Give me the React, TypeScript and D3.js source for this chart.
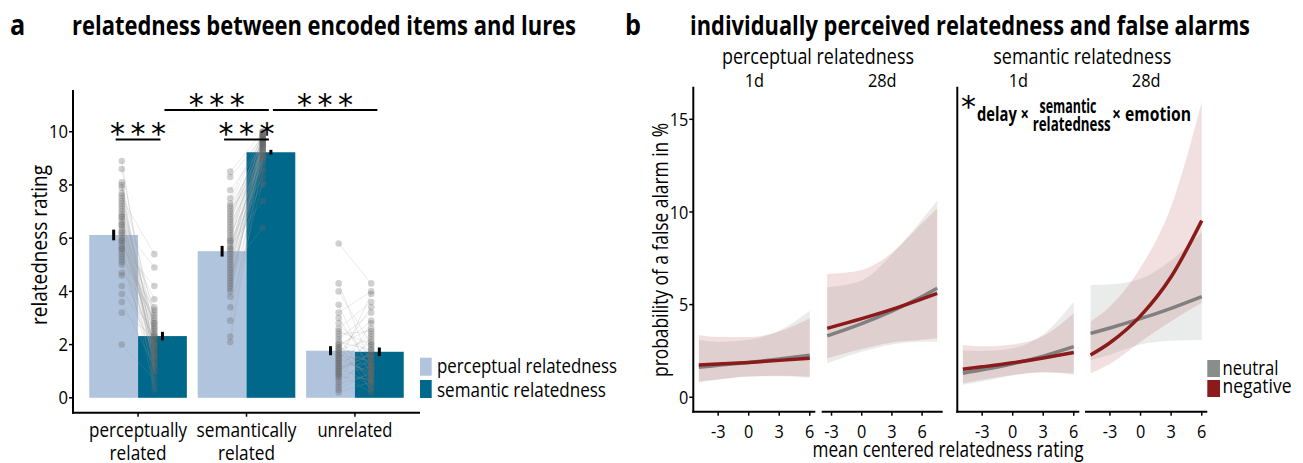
import React from 'react';
import * as d3 from 'd3';

const FONT = "'Open Sans', 'DejaVu Sans', sans-serif";

// ---------------- Panel a data ----------------
const categories = ['perceptually related', 'semantically related', 'unrelated'];
const categoryLines = [['perceptually', 'related'], ['semantically', 'related'], ['unrelated']];
const ratingTypes = ['perceptual relatedness', 'semantic relatedness'];
const meanPerceptualRating = [6.12, 5.51, 1.77];
const meanSemanticRating = [2.32, 9.23, 1.73];
const sePerceptualRating = [0.2, 0.2, 0.17];
const seSemanticRating = [0.16, 0.09, 0.16];
const yTicksA = [0, 2, 4, 6, 8, 10];

// individual participants (perceptual rating, semantic rating) per item type
const percRelatedPerc = [8.9, 8.6, 8.1, 8.0, 7.9, 7.7, 7.6, 7.5, 7.3, 7.2, 7.1, 7.0, 6.9, 6.8, 6.7, 6.6, 6.5, 6.4, 6.3, 6.2, 6.1, 6.0, 5.9, 5.8, 5.7, 5.6, 5.5, 5.4, 5.3, 5.2, 5.1, 5.0, 4.7, 4.6, 4.2, 3.9, 3.6, 3.2, 2.0, 6.5, 7.4, 6.8, 5.9, 6.2, 5.6];
const percRelatedSem = [1.5, 2.4, 1.2, 3.0, 0.9, 2.2, 1.8, 5.4, 1.4, 2.6, 1.1, 3.3, 2.0, 0.5, 2.8, 1.6, 4.9, 2.3, 1.9, 3.7, 1.3, 2.1, 2.7, 0.3, 2.5, 4.2, 1.7, 2.9, 1.0, 3.4, 2.0, 1.5, 3.2, 2.2, 1.8, 2.6, 1.2, 2.3, 0.7, 3.1, 2.4, 1.6, 2.8, 1.9, 2.0];
const semRelatedPerc = [8.5, 8.3, 7.8, 7.5, 7.3, 7.1, 7.0, 6.9, 6.7, 6.6, 6.5, 6.3, 6.2, 6.1, 6.0, 5.9, 5.8, 5.7, 5.6, 5.5, 5.4, 5.3, 5.2, 5.1, 5.0, 4.9, 4.8, 4.7, 4.6, 4.5, 4.4, 4.3, 4.2, 4.0, 3.8, 3.4, 2.9, 2.3, 2.1, 6.4, 5.9, 5.6, 4.1, 7.2, 6.8];
const semRelatedSem = [10, 9.8, 9.5, 10, 9.9, 8.6, 9.7, 9.2, 9.6, 10, 9.0, 9.4, 8.3, 9.8, 9.5, 9.9, 9.1, 7.4, 9.7, 9.3, 9.6, 8.9, 9.8, 9.0, 9.5, 9.4, 6.4, 9.7, 9.2, 8.8, 9.6, 9.1, 9.3, 8.5, 9.9, 8.1, 9.7, 9.5, 9.0, 9.8, 8.0, 9.4, 9.6, 9.3, 9.9];
const unrelatedPerc = [5.8, 4.3, 4.0, 3.5, 3.2, 2.8, 2.6, 2.3, 2.2, 2.1, 2.0, 2.0, 1.9, 1.8, 1.8, 1.7, 1.6, 1.6, 1.5, 1.5, 1.4, 1.4, 1.3, 1.3, 1.2, 1.2, 1.1, 1.0, 1.0, 0.9, 0.9, 0.8, 0.7, 0.6, 0.5, 0.4, 0.3, 0.2, 2.4, 1.9, 1.7, 1.1, 2.5, 3.0, 0.8];
const unrelatedSem = [4.3, 1.2, 2.0, 0.8, 4.0, 1.5, 3.6, 0.5, 3.2, 1.8, 2.6, 0.3, 2.9, 1.1, 2.2, 0.7, 3.4, 1.4, 0.9, 2.4, 1.0, 1.6, 3.9, 0.4, 1.3, 2.1, 0.6, 1.9, 1.7, 2.8, 0.2, 1.2, 2.3, 1.5, 0.9, 1.8, 1.0, 0.6, 2.5, 1.3, 0.8, 1.6, 2.0, 1.1, 0.7];

// significance brackets: [category A, rating A, category B, rating B, height]
const signifBrackets = [
  [0, 0, 0, 1, 9.71],
  [1, 0, 1, 1, 9.71],
  [0, 1, 1, 1, 10.82],
  [1, 1, 2, 1, 10.82],
];
const signifLabel = '***';

// ---------------- Panel b data ----------------
const emotions = ['neutral', 'negative'];
const relTypes = ['perceptual relatedness', 'semantic relatedness'];
const delays = ['1d', '28d'];
const xTicksB = [-3, 0, 3, 6];
const yTicksB = [0, 5, 10, 15];
const ratingGridWide = [-4.9, -3, 0, 3, 6];
const ratingGridPerc28 = [-3.43, 0, 3, 6, 7.5];

const perc1dNeutralFit = [1.62, 1.72, 1.88, 2.06, 2.27];
const perc1dNeutralLow = [0.8, 0.95, 1.12, 1.13, 1.05];
const perc1dNeutralHigh = [3.09, 3.0, 3.1, 3.6, 4.67];
const perc1dNegativeFit = [1.74, 1.79, 1.88, 1.99, 2.1];
const perc1dNegativeLow = [0.86, 0.97, 1.12, 1.16, 1.11];
const perc1dNegativeHigh = [3.36, 3.25, 3.25, 3.55, 4.26];

const perc28dNeutralFit = [3.31, 3.97, 4.65, 5.44, 5.88];
const perc28dNeutralLow = [1.83, 2.45, 2.85, 3.0, 3.0];
const perc28dNeutralHigh = [5.94, 6.3, 7.7, 9.6, 10.6];
const perc28dNegativeFit = [3.72, 4.24, 4.74, 5.31, 5.61];
const perc28dNegativeLow = [2.1, 2.6, 2.95, 3.1, 3.18];
const perc28dNegativeHigh = [6.65, 6.87, 7.8, 9.4, 10.2];

const sem1dNeutralFit = [1.3, 1.48, 1.81, 2.22, 2.73];
const sem1dNeutralLow = [0.67, 0.85, 1.18, 1.35, 1.2];
const sem1dNeutralHigh = [2.52, 2.5, 2.65, 3.4, 5.16];
const sem1dNegativeFit = [1.51, 1.64, 1.86, 2.12, 2.41];
const sem1dNegativeLow = [0.76, 0.95, 1.2, 1.35, 1.3];
const sem1dNegativeHigh = [2.82, 2.75, 2.85, 3.3, 4.53];

const sem28dNeutralFit = [3.45, 3.74, 4.24, 4.8, 5.43];
const sem28dNeutralLow = [2.0, 2.3, 2.85, 3.05, 3.09];
const sem28dNeutralHigh = [6.06, 6.1, 6.4, 7.4, 8.9];
const sem28dNegativeFit = [2.28, 2.94, 4.39, 6.5, 9.53];
const sem28dNegativeLow = [1.3, 1.8, 3.0, 4.1, 5.1];
const sem28dNegativeHigh = [4.08, 4.9, 7.0, 10.3, 15.95];

// ---------------- styles ----------------
const barColors = ['#B0C4DE', '#00688B'];
const lineColors = ['#808080', '#8B1A1A'];
const legendColorsB = ['#878E8C', '#8B1A1A'];
const ribbonFill = ['#8A9391', '#A83232'];
const ribbonOpacity = [0.18, 0.15];

type Curve = { x: number[]; fit: number[]; lo: number[]; hi: number[] };

type TProps = {
  x: number; y: number; w?: number; s?: number; size: number; anchor?: 'start' | 'middle' | 'end';
  weight?: string; rotate?: number; dy?: string; family?: string; children: React.ReactNode;
};

// condensed text: either fitted to a measured width, or horizontally scaled
function T({ x, y, w, s = 0.84, size, anchor = 'start', weight, rotate, dy, family, children }: TProps) {
  const rot = rotate ? ` rotate(${rotate})` : '';
  if (w !== undefined) {
    return (
      <text transform={`translate(${x},${y})${rot}`} dy={dy} fontSize={size} fontWeight={weight} textAnchor={anchor}
        textLength={w} lengthAdjust="spacingAndGlyphs" fontFamily={family}>
        {children}
      </text>
    );
  }
  return (
    <text transform={`translate(${x},${y})${rot} scale(${s},1)`} dy={dy} fontSize={size} fontWeight={weight}
      textAnchor={anchor} fontFamily={family}>
      {children}
    </text>
  );
}

export default function App() {
  const W = 1303, H = 463;

  // ---------- panel a scales ----------
  const aLeft = 73, aRight = 420, aTop = 90, aBottom = 412.7;
  const yA = d3.scaleLinear().domain([-0.56, 11.57]).range([aBottom, aTop]);
  const xA = d3.scaleBand<string>().domain(categories).range([aLeft, aRight]).paddingInner(0).paddingOuter(0.1);
  const bw = xA.bandwidth();
  const subA = d3.scaleBand<string>().domain(ratingTypes).range([0, bw * 0.9]);
  const barX = (ci: number, ri: number) => (xA(categories[ci]) as number) + bw * 0.05 + (subA(ratingTypes[ri]) as number);
  const barCenter = (ci: number, ri: number) => barX(ci, ri) + subA.bandwidth() / 2;
  const means = [meanPerceptualRating, meanSemanticRating];
  const ses = [sePerceptualRating, seSemanticRating];
  const pairs = [
    [percRelatedPerc, percRelatedSem],
    [semRelatedPerc, semRelatedSem],
    [unrelatedPerc, unrelatedSem],
  ];
  const catLabelWidths = [[98, 57], [100, 57], [75]];

  // ---------- panel b scales ----------
  const bTop = 86.7, bBottom = 411.7;
  const yB = d3.scaleLinear().domain([-0.78, 16.76]).range([bBottom, bTop]);
  const facetRanges = [[693.3, 815.3], [821.7, 942.7], [957.3, 1079.3], [1085, 1207.3]];
  const facetCurves: Curve[][] = [
    [
      { x: ratingGridWide, fit: perc1dNeutralFit, lo: perc1dNeutralLow, hi: perc1dNeutralHigh },
      { x: ratingGridWide, fit: perc1dNegativeFit, lo: perc1dNegativeLow, hi: perc1dNegativeHigh },
    ],
    [
      { x: ratingGridPerc28, fit: perc28dNeutralFit, lo: perc28dNeutralLow, hi: perc28dNeutralHigh },
      { x: ratingGridPerc28, fit: perc28dNegativeFit, lo: perc28dNegativeLow, hi: perc28dNegativeHigh },
    ],
    [
      { x: ratingGridWide, fit: sem1dNeutralFit, lo: sem1dNeutralLow, hi: sem1dNeutralHigh },
      { x: ratingGridWide, fit: sem1dNegativeFit, lo: sem1dNegativeLow, hi: sem1dNegativeHigh },
    ],
    [
      { x: ratingGridWide, fit: sem28dNeutralFit, lo: sem28dNeutralLow, hi: sem28dNeutralHigh },
      { x: ratingGridWide, fit: sem28dNegativeFit, lo: sem28dNegativeLow, hi: sem28dNegativeHigh },
    ],
  ];

  const facetScales = facetCurves.map((curves, fi) => {
    const ext = d3.extent(curves.flatMap((c) => c.x)) as [number, number];
    const pad = (ext[1] - ext[0]) * 0.05;
    return d3.scaleLinear().domain([ext[0] - pad, ext[1] + pad]).range(facetRanges[fi]);
  });

  const axisStroke = 2;
  const fmt = (t: number) => (t < 0 ? `-${Math.abs(t)}` : `${t}`);

  return (
    <svg width={W} height={H} style={{ position: 'absolute', left: 0, top: 0 }} fontFamily={FONT}>
      <rect width={W} height={H} fill="white" />

      {/* ================= Panel a ================= */}
      <T x={10} y={35} size={28} weight="bold" s={0.9}>a</T>
      <T x={72} y={35} size={27} weight="bold" w={504}>relatedness between encoded items and lures</T>

      {/* bars */}
      {categories.map((c, ci) =>
        ratingTypes.map((t, ri) => {
          const m = means[ri][ci];
          return (
            <rect key={`bar-${ci}-${ri}`} x={barX(ci, ri)} y={yA(m)} width={subA.bandwidth()} height={yA(0) - yA(m)} fill={barColors[ri]} />
          );
        })
      )}

      {/* participant lines */}
      {pairs.map(([pa, pb], ci) => {
        const cx = (xA(categories[ci]) as number) + bw / 2;
        return pa.map((v, k) => (
          <line key={`pl-${ci}-${k}`} x1={cx - 0.15 * bw} y1={yA(v)} x2={cx + 0.15 * bw} y2={yA(pb[k])} stroke="#9a9a9a" strokeOpacity={0.35} strokeWidth={0.6} />
        ));
      })}
      {/* participant points */}
      {pairs.map(([pa, pb], ci) => {
        const cx = (xA(categories[ci]) as number) + bw / 2;
        return (
          <g key={`pts-${ci}`}>
            {pa.map((v, k) => (
              <circle key={`pa-${k}`} cx={cx - 0.15 * bw} cy={yA(v)} r={3.3} fill="#666" fillOpacity={0.3} />
            ))}
            {pb.map((v, k) => (
              <circle key={`pb-${k}`} cx={cx + 0.15 * bw} cy={yA(v)} r={3.3} fill="#666" fillOpacity={0.3} />
            ))}
          </g>
        );
      })}

      {/* error bars */}
      {categories.map((c, ci) =>
        ratingTypes.map((t, ri) => {
          const m = means[ri][ci];
          const se = ses[ri][ci];
          return (
            <rect key={`eb-${ci}-${ri}`} x={barCenter(ci, ri) - 1.5} y={yA(m + se)} width={3} height={yA(m - se) - yA(m + se)} fill="black" />
          );
        })
      )}

      {/* significance */}
      {signifBrackets.map(([c1, r1, c2, r2, h], i) => {
        const x1 = barCenter(c1, r1) + 2;
        const x2 = barCenter(c2, r2) - 2;
        const mid = (x1 + x2) / 2;
        const y = yA(h);
        return (
          <g key={`sig-${i}`}>
            <line x1={x1} x2={x2} y1={y} y2={y} stroke="black" strokeWidth={2} />
            {signifLabel.split('').map((s, k) => (
              <text key={k} x={mid + (k - 1) * 20.5} y={y + 5} fontSize={30} textAnchor="middle" fontFamily="'DejaVu Sans', sans-serif">{s}</text>
            ))}
          </g>
        );
      })}

      {/* axes a */}
      <line x1={aLeft} x2={aLeft} y1={aTop} y2={aBottom + 1} stroke="black" strokeWidth={axisStroke} />
      <line x1={aLeft - 1} x2={aRight} y1={aBottom} y2={aBottom} stroke="black" strokeWidth={axisStroke} />
      {yTicksA.map((t) => (
        <g key={`ya-${t}`}>
          <line x1={aLeft - 4} x2={aLeft} y1={yA(t)} y2={yA(t)} stroke="black" strokeWidth={1.5} />
          <T x={aLeft - 5} y={yA(t)} dy="0.36em" size={18.5} anchor="end" s={0.9}>{t}</T>
        </g>
      ))}
      {categories.map((c, ci) => {
        const cx = (xA(c) as number) + bw / 2;
        return (
          <g key={`xa-${ci}`}>
            <line x1={cx} x2={cx} y1={aBottom} y2={aBottom + 4} stroke="black" strokeWidth={1.5} />
            {categoryLines[ci].map((ln, li) => (
              <T key={li} x={cx} y={437 + li * 23} size={20} anchor="middle" w={catLabelWidths[ci][li]}>{ln}</T>
            ))}
          </g>
        );
      })}
      <T x={40} y={245} rotate={-90} dy="0.35em" size={21} anchor="middle" w={160}>relatedness rating</T>

      {/* legend a */}
      {ratingTypes.map((t, ri) => (
        <g key={`lega-${ri}`}>
          <rect x={420} y={357.7 + ri * 22.3} width={11.7} height={18} fill={barColors[ri]} />
          <T x={437} y={373.3 + ri * 23.3} size={20} w={ri === 0 ? 180 : 169}>{t}</T>
        </g>
      ))}

      {/* ================= Panel b ================= */}
      <T x={625} y={35} size={28} weight="bold" s={0.9}>b</T>
      <T x={690} y={35} size={27} weight="bold" w={560}>individually perceived relatedness and false alarms</T>

      {relTypes.map((r, gi) => {
        const x0 = facetRanges[gi * 2][0];
        const x1 = facetRanges[gi * 2 + 1][1];
        return (
          <T key={`strip-${gi}`} x={(x0 + x1) / 2} y={64} size={21} anchor="middle" w={gi === 0 ? 192 : 178}>{r}</T>
        );
      })}

      {facetCurves.map((curves, fi) => {
        const xs = facetScales[fi];
        const [fx0, fx1] = facetRanges[fi];
        return (
          <g key={`facet-${fi}`}>
            <T x={(fx0 + fx1) / 2} y={87} size={19} anchor="middle" s={0.86}>{delays[fi % 2]}</T>
            {curves.map((c, ei) => {
              const pts = c.x.map((x, k) => ({ x, fit: c.fit[k], lo: c.lo[k], hi: c.hi[k] }));
              const area = d3.area<typeof pts[0]>().x((d) => xs(d.x)).y0((d) => yB(d.lo)).y1((d) => yB(d.hi)).curve(d3.curveMonotoneX);
              return <path key={`rib-${ei}`} d={area(pts) as string} fill={ribbonFill[ei]} fillOpacity={ribbonOpacity[ei]} />;
            })}
            {curves.map((c, ei) => {
              const pts = c.x.map((x, k) => ({ x, fit: c.fit[k] }));
              const line = d3.line<typeof pts[0]>().x((d) => xs(d.x)).y((d) => yB(d.fit)).curve(d3.curveMonotoneX);
              return <path key={`fit-${ei}`} d={line(pts) as string} fill="none" stroke={lineColors[ei]} strokeWidth={3.5} />;
            })}
            {/* x axis */}
            <line x1={fx0 - (fi % 2 === 0 ? 1 : 0)} x2={fx1} y1={bBottom} y2={bBottom} stroke="black" strokeWidth={axisStroke} />
            {xTicksB.map((t) => (
              <g key={`xt-${t}`}>
                <line x1={xs(t)} x2={xs(t)} y1={bBottom} y2={bBottom + 4} stroke="black" strokeWidth={1.5} />
                <T x={xs(t)} y={438} size={18.5} anchor="middle" s={0.88}>{fmt(t)}</T>
              </g>
            ))}
          </g>
        );
      })}

      {/* y axes b */}
      <line x1={facetRanges[0][0]} x2={facetRanges[0][0]} y1={bTop} y2={bBottom + 1} stroke="black" strokeWidth={axisStroke} />
      <line x1={facetRanges[2][0]} x2={facetRanges[2][0]} y1={bTop} y2={bBottom + 1} stroke="black" strokeWidth={axisStroke} />
      {yTicksB.map((t) => (
        <g key={`yb-${t}`}>
          <line x1={facetRanges[0][0] - 4} x2={facetRanges[0][0]} y1={yB(t)} y2={yB(t)} stroke="black" strokeWidth={1.5} />
          <T x={facetRanges[0][0] - 5} y={yB(t)} dy="0.36em" size={18.5} anchor="end" s={0.88}>{t}</T>
        </g>
      ))}
      <T x={661} y={250} rotate={-90} dy="0.35em" size={21} anchor="middle" w={254}>probability of a false alarm in %</T>
      <T x={948} y={457} size={21} anchor="middle" w={271}>mean centered relatedness rating</T>

      {/* interaction annotation */}
      <text x={968.5} y={117} fontSize={30} textAnchor="middle" fontFamily="'DejaVu Sans', sans-serif">*</text>
      <T x={977} y={120.5} size={19} weight="bold" w={52}>delay ×</T>
      <T x={1068} y={112.5} size={19} weight="bold" anchor="middle" w={57}>semantic</T>
      <T x={1071.7} y={131} size={19} weight="bold" anchor="middle" w={78}>relatedness</T>
      <T x={1112} y={120.5} size={19} weight="bold" w={79}>× emotion</T>

      {/* legend b */}
      {emotions.map((e, ei) => (
        <g key={`legb-${ei}`}>
          <rect x={1207.3} y={360 + ei * 20} width={12.7} height={17} fill={legendColorsB[ei]} />
          <T x={1222.5} y={375 + ei * 17.5} size={20} w={ei === 0 ? 56 : 69}>{e}</T>
        </g>
      ))}
    </svg>
  );
}
